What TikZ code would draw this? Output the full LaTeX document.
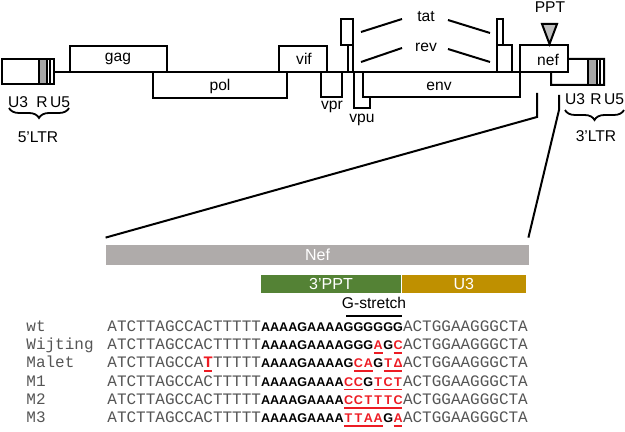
\documentclass[tikz,border=0pt]{standalone}
\usepackage{fontspec}
\setmainfont{Liberation Sans}
\setmonofont{Liberation Mono}
\usetikzlibrary{positioning,calc,decorations.pathreplacing}
\definecolor{nefgray}{RGB}{175,171,170}
\definecolor{pptgreen}{RGB}{84,130,53}
\definecolor{uthreegold}{RGB}{191,144,0}
\definecolor{ltrgray}{RGB}{166,166,166}
\definecolor{mutred}{RGB}{237,28,36}
\definecolor{seqgray}{RGB}{85,85,85}
\newlength{\cellw}\setlength{\cellw}{4.95pt}
\newcommand{\cel}[1]{\makebox[\cellw]{#1}}
\newcommand{\mut}[1]{{\color{mutred}\setbox0\hbox{#1}\rlap{\hspace{0.3pt}\rule[-2pt]{\dimexpr\wd0-0.6pt\relax}{0.85pt}}\box0}}
\newcommand{\bsq}[1]{{\fontsize{6.3}{7}\selectfont\rmfamily\bfseries\color{black}#1}}

\begin{document}
\begin{tikzpicture}[x=0.5pt, y=-0.5pt,
  gene/.style={draw, fill=white, line width=1pt},
  lbl/.style={font=\fontsize{7.8}{9}\selectfont},
  bar/.style={inner sep=0pt, text=white, font=\fontsize{8}{9}\selectfont},
  seqname/.style={anchor=base west, inner sep=0pt, text=seqgray, font=\fontsize{8}{9}\selectfont\ttfamily},
  seq/.style={anchor=base west, inner sep=0pt, text=seqgray, font=\fontsize{8}{9}\selectfont\ttfamily},
  zoomline/.style={line width=1pt},
  ltrbrace/.style={decorate, decoration={brace, mirror, amplitude=5pt}, line width=0.9pt}]
  \useasboundingbox (0,0) rectangle (625,432);

  \draw[line width=1pt] (54,72) -- (552,72);
  \draw[gene] (2,59) rectangle (54,84);
  \draw[gene, fill=ltrgray] (39,59) rectangle (47,84);
  \draw[line width=1pt] (50,59) -- (50,84);
  \draw[gene] (70,46) rectangle (167,72);
  \draw[gene] (153,72) rectangle (287,98);
  \draw[gene] (279,46) rectangle (327,72);
  \draw[gene] (321,72) rectangle (342,97);
  \draw[gene] (341,19) rectangle (353,45);
  \draw[gene] (348,45) rectangle (353,72);
  \draw[gene] (354,72) rectangle (370,108);
  \draw[gene] (363,72) rectangle (520,97);
  \draw[gene] (497,19) rectangle (503,45);
  \draw[gene] (497,45) rectangle (512,72);
  \draw[gene] (568,59) -- (604,59) -- (604,85) -- (551,85) -- (551,72) -- cycle;
  \draw[gene] (520,45) rectangle (568,72);
  \draw[gene, fill=ltrgray] (588,59) rectangle (597,85);
  \draw[line width=1pt] (600,59) -- (600,85);
  \draw[gene, fill=black!25] (542,24) -- (557,24) -- (549.5,44) -- cycle;

  \node (gag) [lbl] at (118,59) {gag};
  \node (pol) [lbl] at (220,86) {pol};
  \node (vif) [lbl] at (304,59) {vif};
  \node (vpr) [lbl] at (332,107) {vpr};
  \node (vpu) [lbl] at (362,120) {vpu};
  \node (env) [lbl] at (439,86) {env};
  \node (nef) [lbl] at (548,60) {nef};
  \node (tat) [lbl] at (426,17) {tat};
  \node (rev) [lbl] at (426,47) {rev};
  \node (ppt) [lbl] at (550,7) {PPT};

  \coordinate (tatA) at (361,32);
  \coordinate (tatB) at (402,19);
  \coordinate (tatC) at (448,20);
  \coordinate (tatD) at (490,33);
  \coordinate (revA) at (361,62);
  \coordinate (revB) at (402,48);
  \coordinate (revC) at (448,49);
  \coordinate (revD) at (490,62);
  \draw[line width=1pt] (tatA) -- (tatB) (tatC) -- (tatD);
  \draw[line width=1pt] (revA) -- (revB) (revC) -- (revD);

  \node (uthreeL) [lbl] at (18,102) {U3};
  \node (rL) [lbl] at (42,102) {R};
  \node (ufiveL) [lbl] at (60,102) {U5};
  \draw[ltrbrace] (9,108) -- (69,108);
  \node (ltrL) [lbl] at (38,137) {5’LTR};
  \node (uthreeR) [lbl] at (575,99) {U3};
  \node (rR) [lbl] at (596,99) {R};
  \node (ufiveR) [lbl] at (614,99) {U5};
  \draw[ltrbrace] (565,110) -- (624,110);
  \node (ltrR) [lbl] at (596,136) {3’LTR};

  \node (nefbar) [bar, fill=nefgray, minimum width=211.5pt, minimum height=10pt] at (317.5,255) {Nef};
  \node (pptbar) [bar, fill=pptgreen, minimum width=70pt, minimum height=9pt] at (331,284) {3’PPT};
  \node (uthreebar) [bar, fill=uthreegold, minimum width=62pt, minimum height=9pt, right=0pt of pptbar] {U3};

  \coordinate (zl) at (537,93);
  \coordinate (zr) at (559,95);
  \draw[zoomline] (zl) -- ++(0,24) -- ($(nefbar.north west)+(0,-7)$);
  \draw[zoomline] (zr) -- ++(0,15) -- ($(nefbar.north east)+(-1,-7)$);

  \node (gstretch) [lbl] at (374,303) {G-stretch};
  \draw[line width=1.4pt] (346,316) -- (402,316);

  \node (nwt) [seqname] at (26,331.2) {wt};
  \node (swt) [seq] at (107,331.2) {ATCTTAGCCACTTTTT\bsq{AAAAGAAAA\cel{G}\cel{G}\cel{G}\cel{G}\cel{G}\cel{G}}ACTGGAAGGGCTA};
  \node (nwij) [seqname] at (26,349.5) {Wijting};
  \node (swij) [seq] at (107,349.5) {ATCTTAGCCACTTTTT\bsq{AAAAGAAAA\cel{G}\cel{G}\cel{G}\mut{\cel{A}}\cel{G}\mut{\cel{C}}}ACTGGAAGGGCTA};
  \node (nmal) [seqname] at (26,367.8) {Malet};
  \node (smal) [seq] at (107,367.8) {ATCTTAGCCA\mut{\textbf{T}}TTTTT\bsq{AAAAGAAAA\cel{G}\mut{\cel{C}\cel{A}}\cel{G}\mut{\cel{T}\cel{Δ}}}ACTGGAAGGGCTA};
  \node (nmone) [seqname] at (26,386.2) {M1};
  \node (smone) [seq] at (107,386.2) {ATCTTAGCCACTTTTT\bsq{AAAAGAAAA\mut{\cel{C}\cel{C}}\cel{G}\mut{\cel{T}\cel{C}\cel{T}}}ACTGGAAGGGCTA};
  \node (nmtwo) [seqname] at (26,404.5) {M2};
  \node (smtwo) [seq] at (107,404.5) {ATCTTAGCCACTTTTT\bsq{AAAAGAAAA\mut{\cel{C}\cel{C}\cel{T}\cel{T}\cel{T}\cel{C}}}ACTGGAAGGGCTA};
  \node (nmthree) [seqname] at (26,422.8) {M3};
  \node (smthree) [seq] at (107,422.8) {ATCTTAGCCACTTTTT\bsq{AAAAGAAAA\mut{\cel{T}\cel{T}\cel{A}\cel{A}}\cel{G}\mut{\cel{A}}}ACTGGAAGGGCTA};
\end{tikzpicture}
\end{document}
